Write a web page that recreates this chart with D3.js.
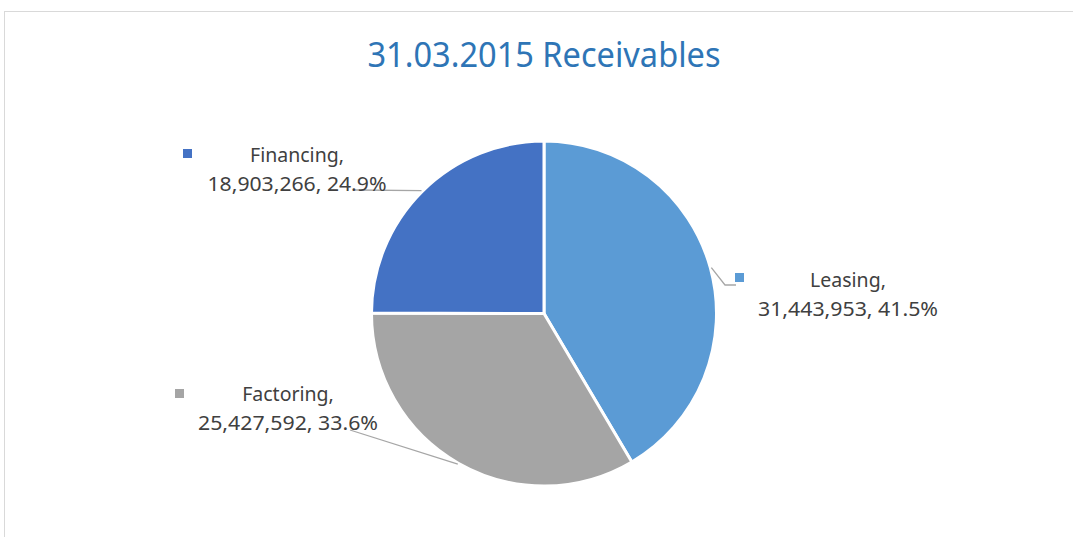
<!DOCTYPE html>
<html>
<head>
<meta charset="utf-8">
<script src="https://cdn.jsdelivr.net/npm/d3@7"></script>
<style>
	body { margin: 0; background: #fff; }
	svg { display: block; font-family: 'Noto Sans', sans-serif; }
</style>
</head>
<body>
<div id="content"></div>
<script>
// data
let categories = ['Leasing', 'Factoring', 'Financing']
let values = [31443953, 25427592, 18903266]
let colors = ['#5B9BD5', '#A5A5A5', '#4472C4']
let title = '31.03.2015 Receivables'

let WIDTH = 1073
let HEIGHT = 537
let CENTER = { x: 544, y: 313.5 }
let RADIUS = 172.5

// label layout: text centre, first baseline, legend key, leader end (label side)
let LABELS = {
	Leasing: { x: 848, y: 287, len: 180, key: [735, 273], leader: [[725, 285], [736, 285]] },
	Factoring: { x: 288, y: 401, len: 180, key: [175, 389], leader: [[350, 430]] },
	Financing: { x: 297, y: 162, len: 179, key: [183, 149], leader: [[355, 190]] },
}

let svg = d3.select('#content').append('svg')
	.attr('width', WIDTH)
	.attr('height', HEIGHT)

svg.append('rect')
	.attr('x', 4.5)
	.attr('y', 11.5)
	.attr('width', WIDTH + 10)
	.attr('height', HEIGHT)
	.attr('fill', 'none')
	.attr('stroke', '#d9d9d9')

svg.append('text')
	.attr('x', CENTER.x)
	.attr('y', 67)
	.attr('text-anchor', 'middle')
	.attr('font-size', 35)
	.attr('fill', '#2E75B6')
	.attr('textLength', 353)
	.attr('lengthAdjust', 'spacingAndGlyphs')
	.text(title)

let total = d3.sum(values)
let data = categories.map((c, i) => ({ name: c, value: values[i], color: colors[i] }))

let pie = d3.pie().sort(null).value((d) => d.value)
let arc = d3.arc().innerRadius(0).outerRadius(RADIUS)
let arcs = pie(data)

let g = svg.append('g')
	.attr('transform', `translate(${CENTER.x}, ${CENTER.y})`)

g.selectAll('path.slice')
	.data(arcs)
	.enter().append('path')
		.attr('class', 'slice')
		.attr('d', arc)
		.attr('fill', (d) => d.data.color)
		.attr('stroke', '#fff')
		.attr('stroke-width', 3)
		.attr('stroke-linejoin', 'round')

let fmtNum = d3.format(',')
let fmtPct = d3.format('.1%')

function edgePoint(d, r) {
	let a = (d.startAngle + d.endAngle) / 2
	return [CENTER.x + Math.sin(a) * r, CENTER.y - Math.cos(a) * r]
}

arcs.forEach((d) => {
	let lay = LABELS[d.data.name]

	// leader line
	let pts = [edgePoint(d, RADIUS + 1)].concat(lay.leader)
	if (d.data.name != 'Leasing') pts.reverse()
	svg.append('path')
		.attr('d', d3.line()(pts))
		.attr('fill', 'none')
		.attr('stroke', '#a6a6a6')
		.attr('stroke-width', 1.3)

	// legend key
	svg.append('rect')
		.attr('x', lay.key[0])
		.attr('y', lay.key[1])
		.attr('width', 9)
		.attr('height', 9)
		.attr('fill', d.data.color)

	let text = svg.append('text')
		.attr('text-anchor', 'middle')
		.attr('font-size', 19.5)
		.attr('fill', '#404040')

	text.append('tspan')
		.attr('x', lay.x)
		.attr('y', lay.y)
		.text(`${d.data.name},`)

	text.append('tspan')
		.attr('x', lay.x)
		.attr('y', lay.y + 28.5)
		.attr('textLength', lay.len)
		.attr('lengthAdjust', 'spacingAndGlyphs')
		.text(`${fmtNum(d.data.value)}, ${fmtPct(d.data.value / total)}`)
})
</script>
</body>
</html>
